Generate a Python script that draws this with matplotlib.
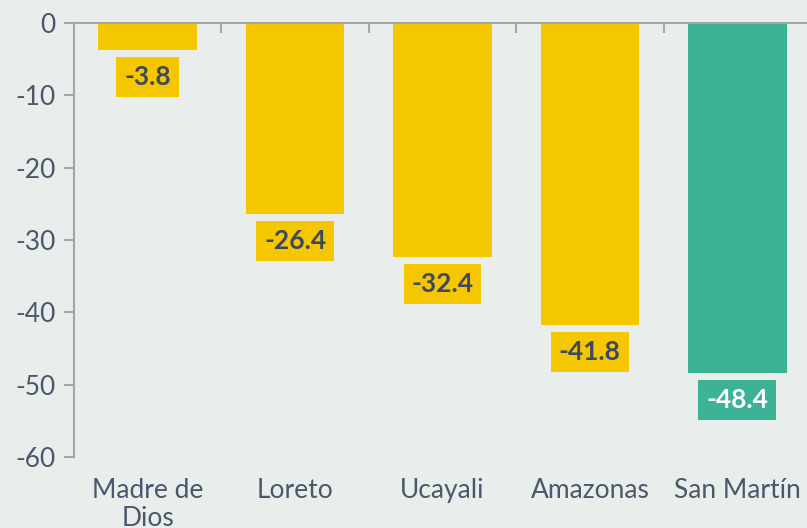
import matplotlib.pyplot as plt
from matplotlib.ticker import FixedLocator

regions = ['Madre de\nDios', 'Loreto', 'Ucayali', 'Amazonas', 'San Martín']
values = [-3.8, -26.4, -32.4, -41.8, -48.4]
bar_colors = ['#F5C700', '#F5C700', '#F5C700', '#F5C700', '#3BB394']
text_colors = ['#3E4A5B', '#3E4A5B', '#3E4A5B', '#3E4A5B', '#FFFFFF']
yticks = [0, -10, -20, -30, -40, -50, -60]

bg = '#E9EDEC'
axis_grey = '#A6A6A6'
label_color = '#4A586C'

plt.rcParams['font.family'] = ['Lato', 'DejaVu Sans']

fig = plt.figure(figsize=(8.07, 5.28), dpi=100, facecolor=bg)
ax = fig.add_axes([74 / 807, 71 / 528, 737 / 807, 434 / 528])
ax.set_facecolor(bg)

x = list(range(len(values)))
ax.bar(x, values, width=0.67, color=bar_colors, zorder=2)

for i, v in enumerate(values):
    ax.text(i, v - 3.7, f'{v:.1f}', ha='center', va='center',
            fontsize=19, fontweight='bold', color=text_colors[i],
            bbox=dict(boxstyle='square,pad=0.3', fc=bar_colors[i], ec='none'),
            zorder=3)

ax.set_xlim(-0.5, 4.5)
ax.set_ylim(-60, 0)
ax.set_yticks(yticks)
ax.set_yticklabels([str(t) for t in yticks])
ax.set_xticks(x)
ax.set_xticklabels(regions)
ax.xaxis.set_minor_locator(FixedLocator([0.5, 1.5, 2.5, 3.5]))

for s in ['right', 'bottom']:
    ax.spines[s].set_visible(False)
for s in ['left', 'top']:
    ax.spines[s].set_color(axis_grey)
    ax.spines[s].set_linewidth(1.5)

ax.tick_params(axis='x', which='major', length=0, pad=15, labelsize=19,
               labelcolor=label_color)
ax.tick_params(axis='x', which='minor', top=True, bottom=False, direction='in',
               length=7, width=1.5, color=axis_grey)
ax.tick_params(axis='y', length=7, width=1.5, color=axis_grey, pad=6,
               labelsize=19, labelcolor=label_color)
for lbl in ax.get_xticklabels() + ax.get_yticklabels():
    lbl.set_fontweight('normal')
    lbl.set_linespacing(1.15)

fig.savefig('out.png', dpi=100, facecolor=bg)
